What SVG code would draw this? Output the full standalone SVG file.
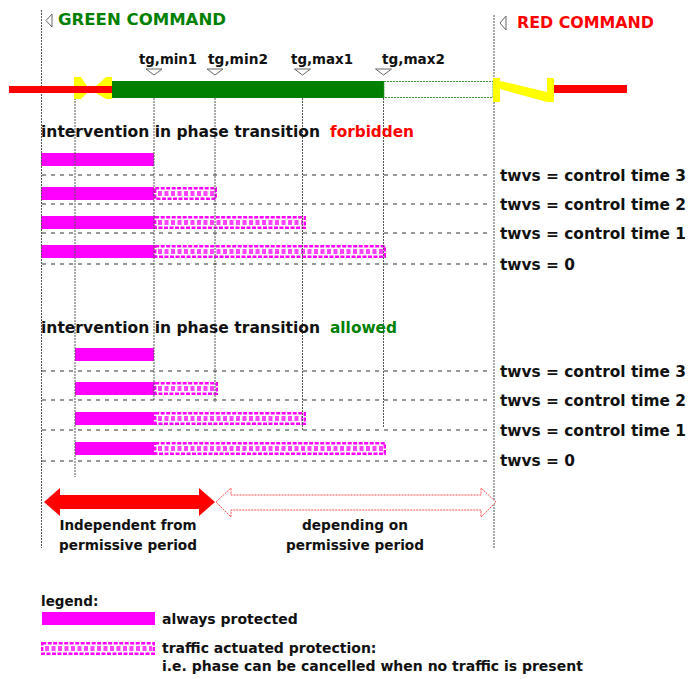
<svg xmlns="http://www.w3.org/2000/svg" width="688" height="679" viewBox="0 0 688 679">
  <defs>
    <style>
      text { font-family: "DejaVu Sans", Verdana, sans-serif; font-weight: bold; fill: #111; }
      .vline { stroke: #555; stroke-width: 1; stroke-dasharray: 2 1; fill: none; }
      .hline { stroke: #333; stroke-width: 1; stroke-dasharray: 4 5; fill: none; }
      .solid { fill: #ff00ff; }
      .ta-box { fill: #fff; stroke: #ff00ff; stroke-width: 2.4; stroke-dasharray: 4 1.5; }
      .ta-core { stroke: #ff44ff; stroke-width: 5; stroke-dasharray: 4 2.5; fill: none; }
      .mark { fill: #fff; stroke: #666; stroke-width: 1; }
      .yellow { fill: #ffff00; }
      .red { fill: #ff0000; }
      .cmd { font-size: 16.5px; }
      .tg { font-size: 13.5px; }
      .head { font-size: 15.5px; }
      .row { font-size: 15px; }
      .period { font-size: 14px; }
      .legend { font-size: 14px; }
    </style>
  </defs>

  <rect width="688" height="679" fill="#fff"/>

  <!-- protection bars: forbidden case -->
  <g id="forbidden-bars">
    <rect class="solid" x="41" y="153" width="113" height="13"/>
    <rect class="ta-box" x="155.2" y="188.2" width="60.6" height="10.6"/>
    <line class="ta-core" x1="158" y1="193.5" x2="214" y2="193.5"/>
    <rect class="solid" x="41" y="187" width="113" height="13"/>
    <rect class="ta-box" x="155.2" y="217.2" width="149.6" height="10.6"/>
    <line class="ta-core" x1="158" y1="222.5" x2="303" y2="222.5"/>
    <rect class="solid" x="41" y="216" width="113" height="13"/>
    <rect class="ta-box" x="155.2" y="246.2" width="229.6" height="10.6"/>
    <line class="ta-core" x1="158" y1="251.5" x2="383" y2="251.5"/>
    <rect class="solid" x="41" y="245" width="113" height="13"/>
  </g>

  <!-- protection bars: allowed case -->
  <g id="allowed-bars">
    <rect class="solid" x="75" y="348" width="79" height="13"/>
    <rect class="ta-box" x="155.2" y="383.2" width="61.6" height="10.6"/>
    <line class="ta-core" x1="158" y1="388.5" x2="215" y2="388.5"/>
    <rect class="solid" x="75" y="382" width="79" height="13"/>
    <rect class="ta-box" x="155.2" y="413.2" width="149.6" height="10.6"/>
    <line class="ta-core" x1="158" y1="418.5" x2="303" y2="418.5"/>
    <rect class="solid" x="75" y="412" width="79" height="13"/>
    <rect class="ta-box" x="155.2" y="443.2" width="229.6" height="10.6"/>
    <line class="ta-core" x1="158" y1="448.5" x2="383" y2="448.5"/>
    <rect class="solid" x="75" y="442" width="79" height="13"/>
  </g>

  <!-- time grid -->
  <g id="grid">
    <line class="vline" x1="41.5" y1="10" x2="41.5" y2="548"/>
    <line class="vline" x1="494" y1="15" x2="494" y2="548"/>
    <line class="vline" x1="75" y1="98" x2="75" y2="477"/>
    <line class="vline" x1="154" y1="98" x2="154" y2="400"/>
    <line class="vline" x1="215" y1="98" x2="215" y2="402"/>
    <line class="vline" x1="302.5" y1="98" x2="302.5" y2="430"/>
    <line class="vline" x1="383.5" y1="98" x2="383.5" y2="428"/>

    <line class="hline" x1="42" y1="175" x2="492" y2="175"/>
    <line class="hline" x1="42" y1="204" x2="492" y2="204"/>
    <line class="hline" x1="42" y1="233" x2="492" y2="233"/>
    <line class="hline" x1="42" y1="264" x2="492" y2="264"/>
    <line class="hline" x1="42" y1="371" x2="492" y2="371"/>
    <line class="hline" x1="42" y1="400" x2="492" y2="400"/>
    <line class="hline" x1="42" y1="430" x2="492" y2="430"/>
    <line class="hline" x1="42" y1="461" x2="492" y2="461"/>

    <polygon class="mark" points="52,14 52,27 46,20.5"/>
    <polygon class="mark" points="506,16 506,30 500,23"/>
    <polygon class="mark" points="146,69 162,69 154,75"/>
    <polygon class="mark" points="207,69 223,69 215,75"/>
    <polygon class="mark" points="294.5,69 310.5,69 302.5,75"/>
    <polygon class="mark" points="375.5,69 391.5,69 383.5,75"/>
  </g>

  <!-- signal sequence bar -->
  <g id="signal-bar">
    <polygon class="yellow" points="74,77 81,77 87,86 87,93 81,99 74,99"/>
    <polygon class="yellow" points="112,77 106,77 96,86 96,93 106,99 112,99"/>
    <rect class="red" x="9" y="86" width="103" height="7"/>
    <rect x="112" y="81" width="272" height="17" fill="#008000"/>
    <rect x="384" y="81.5" width="109" height="16" fill="#fff" stroke="#3a9a3a" stroke-width="1" stroke-dasharray="2 1"/>
    <polygon class="yellow" points="493,78 500,78 500,81 547,92 547,78 554,78 554,102 547,102 500,89 500,102 493,102"/>
    <rect class="red" x="554" y="85" width="73" height="8"/>
  </g>

  <!-- period arrows -->
  <g id="periods">
    <polygon class="red" points="44,502 60,488 60,495 199,495 199,488 215,502 199,516 199,509 60,509 60,516"/>
    <polygon points="216,502 231,488 231,495 481,495 481,488 496,502 481,517 481,510 231,510 231,517" fill="#fff" stroke="#ff5050" stroke-width="1" stroke-dasharray="2 1"/>
  </g>

  <!-- labels -->
  <g id="labels">
    <text class="cmd" x="58" y="25" style="fill:#008000" textLength="168" lengthAdjust="spacingAndGlyphs">GREEN COMMAND</text>
    <text class="cmd" x="517" y="28" style="fill:#ff0000;font-size:16px" textLength="137" lengthAdjust="spacingAndGlyphs">RED COMMAND</text>

    <text class="tg" x="139" y="64" textLength="58" lengthAdjust="spacingAndGlyphs">tg,min1</text>
    <text class="tg" x="208" y="64" textLength="60" lengthAdjust="spacingAndGlyphs">tg,min2</text>
    <text class="tg" x="291" y="64" textLength="62" lengthAdjust="spacingAndGlyphs">tg,max1</text>
    <text class="tg" x="382" y="64" textLength="63" lengthAdjust="spacingAndGlyphs">tg,max2</text>

    <text class="head" x="41" y="137" textLength="279" lengthAdjust="spacingAndGlyphs">intervention in phase transition</text>
    <text class="head" x="330" y="137" style="fill:#ff0000" textLength="84" lengthAdjust="spacingAndGlyphs">forbidden</text>
    <text class="head" x="41" y="333" textLength="279" lengthAdjust="spacingAndGlyphs">intervention in phase transition</text>
    <text class="head" x="330" y="333" style="fill:#008000" textLength="67" lengthAdjust="spacingAndGlyphs">allowed</text>

    <text class="row" x="500" y="181" textLength="186" lengthAdjust="spacingAndGlyphs">twvs = control time 3</text>
    <text class="row" x="500" y="210" textLength="186" lengthAdjust="spacingAndGlyphs">twvs = control time 2</text>
    <text class="row" x="500" y="239" textLength="186" lengthAdjust="spacingAndGlyphs">twvs = control time 1</text>
    <text class="row" x="500" y="270" textLength="75" lengthAdjust="spacingAndGlyphs">twvs = 0</text>
    <text class="row" x="500" y="377" textLength="186" lengthAdjust="spacingAndGlyphs">twvs = control time 3</text>
    <text class="row" x="500" y="406" textLength="186" lengthAdjust="spacingAndGlyphs">twvs = control time 2</text>
    <text class="row" x="500" y="436" textLength="186" lengthAdjust="spacingAndGlyphs">twvs = control time 1</text>
    <text class="row" x="500" y="466" textLength="75" lengthAdjust="spacingAndGlyphs">twvs = 0</text>

    <text class="period" x="128" y="530" text-anchor="middle" textLength="137" lengthAdjust="spacingAndGlyphs">Independent from</text>
    <text class="period" x="128" y="550" text-anchor="middle" textLength="138" lengthAdjust="spacingAndGlyphs">permissive period</text>
    <text class="period" x="355" y="530" text-anchor="middle" textLength="106" lengthAdjust="spacingAndGlyphs">depending on</text>
    <text class="period" x="355" y="550" text-anchor="middle" textLength="138" lengthAdjust="spacingAndGlyphs">permissive period</text>
  </g>

  <!-- legend -->
  <g id="legend">
    <text class="legend" x="41" y="606" style="font-size:13.5px">legend:</text>
    <rect class="solid" x="42" y="612" width="113" height="13"/>
    <text class="legend" x="162" y="624">always protected</text>
    <rect class="ta-box" x="42.2" y="643.2" width="111.6" height="10.6"/>
    <line class="ta-core" x1="45" y1="648.5" x2="152" y2="648.5"/>
    <text class="legend" x="162" y="653">traffic actuated protection:</text>
    <text class="legend" x="162" y="671">i.e. phase can be cancelled when no traffic is present</text>
  </g>
</svg>
